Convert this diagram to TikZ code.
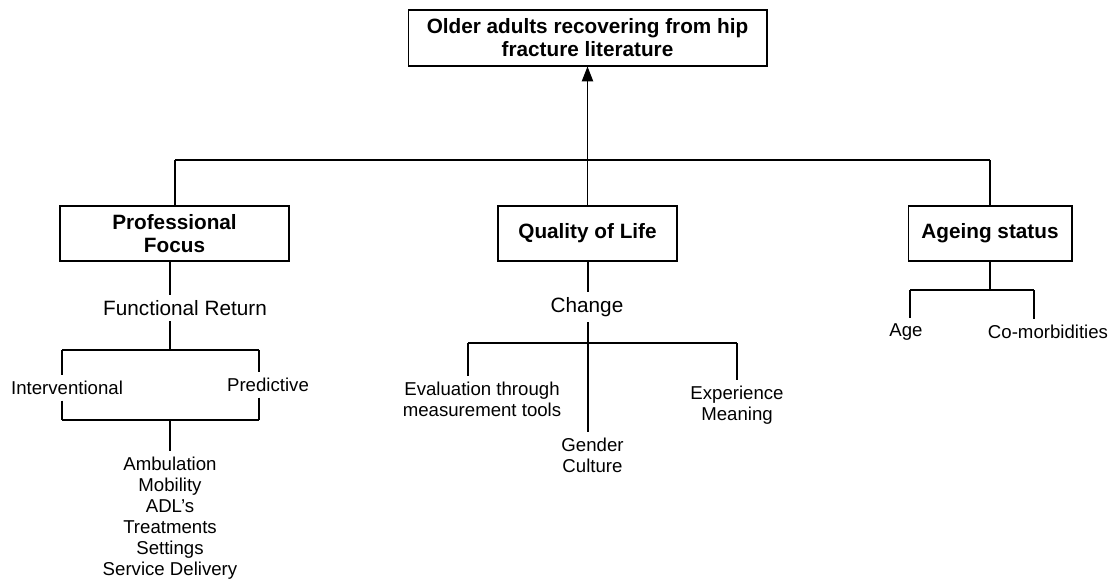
\documentclass[tikz,border=0pt]{standalone}
\usepackage{fontspec}
\setmainfont{Liberation Sans}
\usetikzlibrary{arrows.meta}

\begin{document}
\begin{tikzpicture}[x=0.02cm,y=-0.02cm,line width=0.6pt,
	box/.style={draw,inner sep=0pt,align=center,font=\fontsize{11.8}{13.1}\selectfont\bfseries},
	big/.style={inner sep=3pt,font=\fontsize{11.8}{13.1}\selectfont},
	small/.style={inner sep=3pt,align=center,font=\fontsize{10.6}{12}\selectfont}]

	\useasboundingbox (0,0) rectangle (1118,581);

	% boxes
	\node[box,minimum width=7.18cm,minimum height=1.12cm] (top) at (587.5,38) {Older adults recovering from hip\\fracture literature};
	\node[box,minimum width=4.58cm,minimum height=1.1cm] (prof) at (174.5,233.5) {Professional\\Focus};
	\node[box,minimum width=3.58cm,minimum height=1.1cm] (qol) at (587.5,233.5) {Quality of Life};
	\node[box,minimum width=3.28cm,minimum height=1.1cm] (ageb) at (990,233.5) {Ageing status};

	% labels
	\node[big] (fr) at (185,308) {Functional Return};
	\node[small] (intv) at (67,388) {Interventional};
	\node[small] (pred) at (268,385) {Predictive};
	\node[small] (list) at (170,518) {Ambulation\\Mobility\\ADL’s\\Treatments\\Settings\\Service Delivery};
	\node[big] (chg) at (587,307) {Change};
	\node[small] (eval) at (482,399) {Evaluation through\\measurement tools};
	\node[small] (exper) at (737,405) {Experience\\Meaning};
	\node[small] (gend) at (592.5,455) {Gender\\Culture};
	\node[small] (age) at (906,332) {Age};
	\node[small] (comorb) at (1048,332) {Co-morbidities};

	% top level
	\coordinate (jl) at (175,160);
	\coordinate (jr) at (990,160);
	\draw (jl) -- (jr);
	\draw (jl) -- (prof.north -| jl);
	\draw (jr) -- (ageb.north);
	\draw[-{Triangle[length=8.5pt,width=6.5pt]}] (qol.north) -- (top.south);

	% professional focus
	\coordinate (ftm) at (170,350);
	\coordinate (ftl) at (62,350);
	\coordinate (ftr) at (259,350);
	\coordinate (fbm) at (170,420);
	\coordinate (fbl) at (62,420);
	\coordinate (fbr) at (259,420);
	\draw (prof.south -| ftm) -- (fr.north -| ftm);
	\draw (fr.south -| ftm) -- (ftm);
	\draw (ftl) -- (ftr);
	\draw (fbl) -- (fbr);
	\draw (ftl) -- (intv.north -| ftl);
	\draw (intv.south -| fbl) -- (fbl);
	\draw (ftr) -- (pred.north -| ftr);
	\draw (pred.south -| fbr) -- (fbr);
	\draw (fbm) -- (list.north -| fbm);

	% quality of life
	\coordinate (cm) at (588,343);
	\coordinate (cl) at (468,343);
	\coordinate (cr) at (737,343);
	\draw (qol.south -| cm) -- (chg.north -| cm);
	\draw (chg.south -| cm) -- (gend.north -| cm);
	\draw (cl) -- (cr);
	\draw (cl) -- (eval.north -| cl);
	\draw (cr) -- (exper.north -| cr);

	% ageing status
	\coordinate (aj) at (990,290);
	\coordinate (al) at (910,290);
	\coordinate (ar) at (1034,290);
	\draw (ageb.south) -- (aj);
	\draw (al) -- (ar);
	\draw (al) -- (age.north -| al);
	\draw (ar) -- (comorb.north -| ar);

\end{tikzpicture}
\end{document}
